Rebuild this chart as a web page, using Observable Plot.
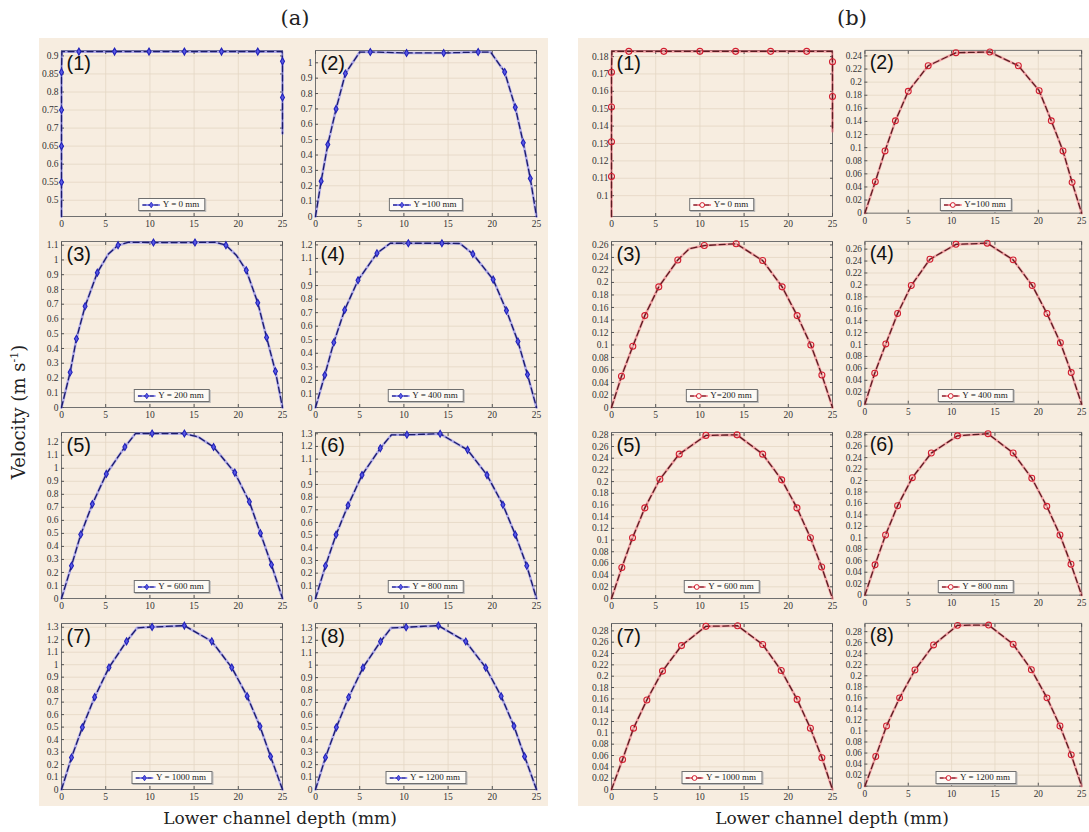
<!DOCTYPE html>
<html><head><meta charset="utf-8">
<script src="https://cdn.jsdelivr.net/npm/d3@7"></script>
<script src="https://cdn.jsdelivr.net/npm/@observablehq/plot@0.6"></script>
<style>
body{margin:0;background:#fff;}
#root{position:relative;width:1089px;height:832px;overflow:hidden;background:#fff;font-family:"DejaVu Serif",serif;color:#222;}
.bg{position:absolute;background:#f7ede0;}
.panel{position:absolute;}
.panel svg{overflow:visible;}
.legend{position:absolute;transform:translateX(-50%);background:#fdfaf5;border:1px solid #6f6f6f;box-shadow:1px 1px 0 #bbb;
  font-family:"Liberation Serif",serif;font-size:9px;line-height:11px;padding:0 5px 0 3px;white-space:nowrap;display:flex;align-items:center;gap:3px;color:#222;}
.title{position:absolute;font-family:"DejaVu Serif",serif;font-size:21px;transform:translate(-50%,-50%);}
.xlab{position:absolute;font-family:"DejaVu Serif",serif;font-size:17px;transform:translate(-50%,-50%);white-space:nowrap;}
.ylab{position:absolute;font-family:"DejaVu Serif",serif;font-size:18px;transform:translate(-50%,-50%) rotate(-90deg);white-space:nowrap;}
</style></head>
<body><div id="root"></div>
<script>
// ---------- data ----------
const depthTicks = [0, 5, 10, 15, 20, 25];

// [depth (mm), velocity (m/s), marker shown]
const velA1 = [[0,0.455,0],[0,0.55,1],[0,0.65,1],[0,0.75,1],[0,0.855,1],[0.05,0.912,0],[1.97,0.912,1],[6.0,0.912,1],[9.9,0.912,1],[13.9,0.912,1],[18.1,0.912,1],[22.2,0.912,1],[24.95,0.912,0],[25,0.885,1],[25,0.785,1],[25,0.685,0]];
const velA2 = [[0,0,0],[0.64,0.23,1],[1.39,0.468,1],[2.33,0.70,1],[3.38,0.93,1],[5.0,1.07,0],[6.2,1.07,1],[10.3,1.064,1],[14.5,1.064,1],[18.4,1.07,1],[19.8,1.07,0],[21.4,0.94,1],[22.6,0.71,1],[23.5,0.48,1],[24.3,0.247,1],[25,0,0]];
const velA3 = [[0,0,0],[0.98,0.239,1],[1.69,0.466,1],[2.67,0.686,1],[4.05,0.914,1],[5.3,1.04,0],[6.4,1.10,1],[7.6,1.12,0],[10.4,1.118,1],[15.1,1.118,1],[17.4,1.12,0],[18.6,1.10,1],[19.8,1.03,0],[20.9,0.93,1],[22.2,0.71,1],[23.2,0.475,1],[24.2,0.245,1],[25,0,0]];
const velA4 = [[0,0,0],[1.05,0.239,1],[2.07,0.48,1],[3.3,0.72,1],[4.81,0.939,1],[6.95,1.138,1],[8.46,1.212,0],[10.5,1.212,1],[14.3,1.212,1],[16.35,1.21,0],[17.8,1.133,1],[20.1,0.944,1],[21.6,0.715,1],[22.9,0.487,1],[23.98,0.243,1],[25,0,0]];
const velA5 = [[0,0,0],[1.13,0.252,1],[2.18,0.492,1],[3.49,0.725,1],[5.07,0.957,1],[7.17,1.164,1],[8.37,1.267,0],[10.25,1.267,1],[13.9,1.267,1],[15.5,1.24,0],[17.2,1.164,1],[19.6,0.967,1],[21.25,0.743,1],[22.5,0.502,1],[23.75,0.259,1],[25,0,0]];
const velA6 = [[0,0,0],[1.13,0.258,1],[2.33,0.504,1],[3.68,0.735,1],[5.26,0.974,1],[7.33,1.186,1],[8.6,1.292,0],[10.34,1.292,1],[14.1,1.30,1],[17.2,1.173,1],[19.4,0.974,1],[21.2,0.74,1],[22.6,0.504,1],[23.9,0.258,1],[25,0,0]];
const velA7 = [[0,0,0],[1.13,0.256,1],[2.36,0.498,1],[3.75,0.74,1],[5.37,0.977,1],[7.36,1.187,1],[8.56,1.295,0],[10.25,1.302,1],[13.9,1.313,1],[17.0,1.187,1],[19.26,0.977,1],[21.0,0.748,1],[22.45,0.506,1],[23.65,0.264,1],[25,0,0]];
const velA8 = [[0,0,0],[1.13,0.258,1],[2.36,0.50,1],[3.75,0.742,1],[5.37,0.98,1],[7.36,1.19,1],[8.56,1.30,0],[10.25,1.305,1],[13.9,1.318,1],[17.0,1.19,1],[19.26,0.98,1],[21.0,0.75,1],[22.45,0.51,1],[23.65,0.266,1],[25,0,0]];

const velB1 = [[0,0.088,0],[0,0.111,1],[0,0.131,1],[0,0.151,1],[0,0.171,1],[0.05,0.183,0],[1.96,0.183,1],[5.92,0.183,1],[10.0,0.183,1],[14.04,0.183,1],[18.0,0.183,1],[22.08,0.183,1],[24.95,0.183,0],[25,0.177,1],[25,0.157,1],[25,0.137,0]];
const velB2 = [[0,0,0],[1.2,0.048,1],[2.32,0.095,1],[3.52,0.141,1],[5.0,0.186,1],[7.3,0.225,1],[10.5,0.245,1],[14.4,0.246,1],[17.7,0.225,1],[20.1,0.187,1],[21.5,0.141,1],[22.85,0.095,1],[23.9,0.047,1],[25,0,0]];
const velB3 = [[0,0,0],[1.13,0.05,1],[2.41,0.098,1],[3.77,0.147,1],[5.35,0.193,1],[7.5,0.236,1],[8.8,0.254,0],[10.5,0.259,1],[14.1,0.262,1],[17.1,0.235,1],[19.3,0.193,1],[21.0,0.147,1],[22.55,0.10,1],[23.8,0.052,1],[25,0,0]];
const velB4 = [[0,0,0],[1.13,0.052,1],[2.41,0.101,1],[3.77,0.152,1],[5.35,0.199,1],[7.5,0.243,1],[10.5,0.268,1],[14.1,0.270,1],[17.1,0.242,1],[19.3,0.199,1],[21.0,0.152,1],[22.55,0.103,1],[23.8,0.053,1],[25,0,0]];
const velB5 = [[0,0,0],[1.17,0.053,1],[2.38,0.104,1],[3.77,0.155,1],[5.47,0.204,1],[7.66,0.247,1],[10.68,0.279,1],[14.2,0.280,1],[17.1,0.247,1],[19.25,0.203,1],[20.98,0.155,1],[22.5,0.104,1],[23.77,0.054,1],[25,0,0]];
const velB6 = [[0,0,0],[1.17,0.053,1],[2.38,0.105,1],[3.77,0.156,1],[5.47,0.205,1],[7.66,0.248,1],[10.68,0.278,1],[14.2,0.2817,1],[17.1,0.248,1],[19.25,0.204,1],[20.98,0.155,1],[22.5,0.105,1],[23.77,0.054,1],[25,0,0]];
const velB7 = [[0,0,0],[1.25,0.053,1],[2.49,0.108,1],[4.0,0.158,1],[5.77,0.209,1],[7.92,0.254,1],[10.68,0.288,1],[14.26,0.289,1],[17.1,0.256,1],[19.2,0.21,1],[21.0,0.159,1],[22.5,0.108,1],[23.8,0.056,1],[25,0,0]];
const velB8 = [[0,0,0],[1.25,0.0537,1],[2.49,0.109,1],[4.0,0.16,1],[5.77,0.2105,1],[7.92,0.256,1],[10.68,0.2914,1],[14.26,0.292,1],[17.1,0.2573,1],[19.2,0.211,1],[21.0,0.16,1],[22.5,0.109,1],[23.8,0.0567,1],[25,0,0]];

const yDomainsA = [[0.455,0.915],[0,1.08],[0,1.125],[0,1.225],[0,1.275],[0,1.31],[0,1.33],[0,1.335]];
const yDomainsB = [[0.088,0.1835],[0,0.2485],[0,0.2655],[0,0.273],[0,0.284],[0,0.284],[0,0.293],[0,0.295]];

const ticksA1 = [0.5,0.55,0.6,0.65,0.7,0.75,0.8,0.85,0.9];
const ticksA10 = [0,0.1,0.2,0.3,0.4,0.5,0.6,0.7,0.8,0.9,1];
const ticksA11 = [0,0.1,0.2,0.3,0.4,0.5,0.6,0.7,0.8,0.9,1,1.1];
const ticksA12 = [0,0.1,0.2,0.3,0.4,0.5,0.6,0.7,0.8,0.9,1,1.1,1.2];
const ticksA13 = [0,0.1,0.2,0.3,0.4,0.5,0.6,0.7,0.8,0.9,1,1.1,1.2,1.3];
const ticksB1 = [0.1,0.11,0.12,0.13,0.14,0.15,0.16,0.17,0.18];
const ticksB24 = [0,0.02,0.04,0.06,0.08,0.1,0.12,0.14,0.16,0.18,0.2,0.22,0.24];
const ticksB26 = [0,0.02,0.04,0.06,0.08,0.1,0.12,0.14,0.16,0.18,0.2,0.22,0.24,0.26];
const ticksB28 = [0,0.02,0.04,0.06,0.08,0.1,0.12,0.14,0.16,0.18,0.2,0.22,0.24,0.26,0.28];

const panelLabels = ["(1)","(2)","(3)","(4)","(5)","(6)","(7)","(8)"];
const legendA = ["Y = 0 mm","Y =100 mm","Y = 200 mm","Y = 400 mm","Y = 600 mm","Y = 800 mm","Y = 1000 mm","Y = 1200 mm"];
const legendB = ["Y= 0 mm","Y=100 mm","Y=200 mm","Y = 400 mm","Y = 600 mm","Y = 800 mm","Y = 1000 mm","Y = 1200 mm"];

const seriesA = [velA1,velA2,velA3,velA4,velA5,velA6,velA7,velA8];
const seriesB = [velB1,velB2,velB3,velB4,velB5,velB6,velB7,velB8];
const ticksA = [ticksA1,ticksA10,ticksA11,ticksA12,ticksA12,ticksA13,ticksA13,ticksA13];
const ticksB = [ticksB1,ticksB24,ticksB26,ticksB26,ticksB28,ticksB28,ticksB28,ticksB28];

// ---------- layout ----------
const root = document.getElementById("root");
const W = 221, H = 166;
const rowTops = [50, 241, 432, 623];
const colsA = [61, 315], colsB = [611, 865];
const mL = 30, mR = 8, mT = 6, mB = 16;

const styleA = {light:"#6a6af4", dark:"#1b1b6a", symbol:"diamond", mFill:"#5a5ae6", mStroke:"#2323b8", r:2.1};
const styleB = {light:"#ee5c6c", dark:"#5a1c22", symbol:"circle", mFill:"none", mStroke:"#d21e30", r:3};

function addDiv(cls, text, css) {
  const d = document.createElement("div");
  d.className = cls;
  if (text != null) d.innerHTML = text;
  Object.assign(d.style, css);
  root.appendChild(d);
  return d;
}

addDiv("bg", null, {left:"39px", top:"38px", width:"509px", height:"768px"});
addDiv("bg", null, {left:"578px", top:"38px", width:"511px", height:"768px"});

function drawPanel(data, yDomain, yTicks, L, T, st, label, legendText) {
  const X = d => d[0], Y = d => d[1];
  const ax = {label:null, stroke:"#555"};
  const chart = Plot.plot({
    width: W + mL + mR, height: H + mT + mB,
    marginLeft: mL, marginRight: mR, marginTop: mT, marginBottom: mB,
    style: {background:"transparent", fontFamily:"Liberation Serif", fontSize:"9.5px", color:"#333", overflow:"visible"},
    x: {domain:[0,25]},
    y: {domain: yDomain},
    marks: [
      Plot.gridX(depthTicks.slice(1,-1), {stroke:"#e4d7c4", strokeOpacity:1, strokeWidth:0.8}),
      Plot.gridY(yTicks, {stroke:"#e4d7c4", strokeOpacity:1, strokeWidth:0.8}),
      Plot.frame({stroke:"#707070"}),
      Plot.axisX(depthTicks, {anchor:"bottom", tickSize:0, tickPadding:4, label:null}),
      Plot.axisY(yTicks, {anchor:"left", tickSize:0, tickPadding:3, label:null, tickFormat: d => String(d)}),
      Plot.axisX(depthTicks, {...ax, anchor:"bottom", tickSize:3, dy:-3, tickFormat:() => ""}),
      Plot.axisX(depthTicks, {...ax, anchor:"top", tickSize:3, dy:3, tickFormat:() => ""}),
      Plot.axisY(yTicks, {...ax, anchor:"left", tickSize:3, dx:3, tickFormat:() => ""}),
      Plot.axisY(yTicks, {...ax, anchor:"right", tickSize:3, dx:-3, tickFormat:() => ""}),
      Plot.line(data, {x:X, y:Y, stroke:st.light, strokeWidth:2.6, strokeOpacity:0.5}),
      Plot.line(data, {x:X, y:Y, stroke:st.dark, strokeWidth:1.3, strokeDasharray:"6,3.5"}),
      Plot.dot(data.filter(d => d[2]), {x:X, y:Y, symbol:st.symbol, r:st.r, stroke:st.mStroke, fill:st.mFill, strokeWidth:1.1}),
      Plot.text([label], {text:d => d, frameAnchor:"top-left", dx:5, dy:5, lineAnchor:"top", textAnchor:"start", fontSize:20, fontFamily:"Liberation Sans", fill:"#111"})
    ]
  });
  const holder = document.createElement("div");
  holder.className = "panel";
  holder.style.left = (L - mL) + "px";
  holder.style.top = (T - mT) + "px";
  holder.appendChild(chart);
  root.appendChild(holder);

  const sample = st.symbol === "diamond"
    ? `<svg width="18" height="8"><line x1="0" y1="4" x2="18" y2="4" stroke="${st.light}" stroke-width="1.6"/><line x1="0" y1="4" x2="18" y2="4" stroke="${st.dark}" stroke-width="1" stroke-dasharray="4,2"/><path d="M9,1.2 L10.9,4 L9,6.8 L7.1,4Z" fill="${st.mFill}" stroke="${st.mStroke}" stroke-width="0.8"/></svg>`
    : `<svg width="18" height="8"><line x1="0" y1="4" x2="18" y2="4" stroke="${st.light}" stroke-width="1.6"/><line x1="0" y1="4" x2="18" y2="4" stroke="${st.dark}" stroke-width="1" stroke-dasharray="4,2"/><circle cx="9" cy="4" r="2.4" fill="#fdfaf5" stroke="${st.mStroke}" stroke-width="1"/></svg>`;
  addDiv("legend", sample + `<span>${legendText}</span>`, {left:(L + W/2) + "px", top:(T + H - 18) + "px"});
}

for (let i = 0; i < 8; i++) {
  const row = Math.floor(i / 2), col = i % 2;
  drawPanel(seriesA[i], yDomainsA[i], ticksA[i], colsA[col], rowTops[row], styleA, panelLabels[i], legendA[i]);
  drawPanel(seriesB[i], yDomainsB[i], ticksB[i], colsB[col], rowTops[row], styleB, panelLabels[i], legendB[i]);
}

addDiv("title", "(a)", {left:"295px", top:"18px"});
addDiv("title", "(b)", {left:"852px", top:"18px"});
addDiv("xlab", "Lower channel depth (mm)", {left:"280px", top:"818px"});
addDiv("xlab", "Lower channel depth (mm)", {left:"832px", top:"818px"});
addDiv("ylab", "Velocity (m s<sup style=\"font-size:11px\">-1</sup>)", {left:"18px", top:"412px"});
</script>
</body></html>
